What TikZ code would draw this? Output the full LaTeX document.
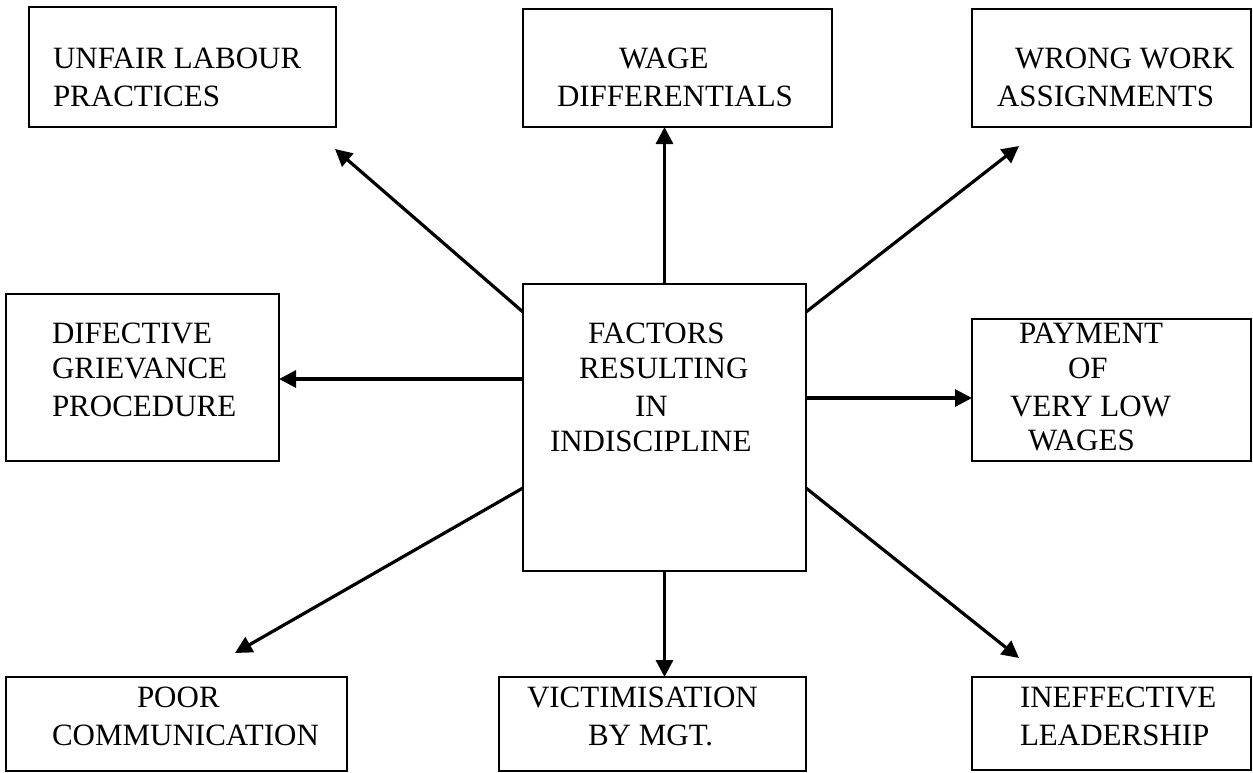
\documentclass[tikz,border=0pt]{standalone}
\usepackage{fontspec}
\setmainfont{Liberation Serif}
\usetikzlibrary{arrows.meta}
\begin{document}
\begin{tikzpicture}[x=1pt,y=-1pt,
  box/.style={draw=black,line width=1.6pt,rectangle,inner sep=0pt,outer sep=0pt},
  lbl/.style={inner sep=0pt,outer sep=0pt,anchor=base west,font=\fontsize{31}{37}\selectfont},
  conn/.style={line width=3.2pt,-{Triangle[length=17pt,width=17pt]}}]
\useasboundingbox (0,0) rectangle (1253,772);
% boxes
\node[box,minimum width=307pt,minimum height=120pt] (u) at (182.5,67) {};
\node[box,minimum width=309pt,minimum height=118pt] (w) at (677.5,68) {};
\node[box,minimum width=279pt,minimum height=118pt] (r) at (1111.5,68) {};
\node[box,minimum width=273pt,minimum height=167pt] (d) at (142.5,377.5) {};
\node[box,minimum width=283pt,minimum height=287pt] (c) at (664.5,427.5) {};
\node[box,minimum width=279pt,minimum height=142pt] (p) at (1111.5,390) {};
\node[box,minimum width=341pt,minimum height=94pt] (pc) at (176.5,724) {};
\node[box,minimum width=307pt,minimum height=94pt] (v) at (652.5,724) {};
\node[box,minimum width=279pt,minimum height=93pt] (l) at (1111.5,723.5) {};
% texts
\node[lbl] (u1) at (53,68) {UNFAIR LABOUR};
\node[lbl] (u2) at (53,106) {PRACTICES};
\node[lbl] (w1) at (619,68) {WAGE};
\node[lbl] (w2) at (557,106) {DIFFERENTIALS};
\node[lbl] (r1) at (1015,68) {WRONG WORK};
\node[lbl] (r2) at (997,106) {ASSIGNMENTS};
\node[lbl] (d1) at (52,343) {DIFECTIVE};
\node[lbl] (d2) at (52,378) {GRIEVANCE};
\node[lbl] (d3) at (52,416) {PROCEDURE};
\node[lbl] (c1) at (588,343) {FACTORS};
\node[lbl] (c2) at (579,378) {RESULTING};
\node[lbl] (c3) at (635,416) {IN};
\node[lbl] (c4) at (550,451) {INDISCIPLINE};
\node[lbl] (p1) at (1019,343) {PAYMENT};
\node[lbl] (p2) at (1068,378) {OF};
\node[lbl] (p3) at (1010,416) {VERY LOW};
\node[lbl] (p4) at (1028,450) {WAGES};
\node[lbl] (pc1) at (137,707) {POOR};
\node[lbl] (pc2) at (52,745) {COMMUNICATION};
\node[lbl] (v1) at (527,707) {VICTIMISATION};
\node[lbl] (v2) at (588,745) {BY MGT.};
\node[lbl] (l1) at (1020,707) {INEFFECTIVE};
\node[lbl] (l2) at (1020,745) {LEADERSHIP};
% connector end points
\coordinate (sUL) at (523,312);
\coordinate (sL)  at (523,379);
\coordinate (sLL) at (523,488);
\coordinate (sUR) at (806,312);
\coordinate (sR)  at (806,398);
\coordinate (sLR) at (806,488);
\coordinate (tUL) at (335,149);
\coordinate (tUR) at (1019,146);
\coordinate (tLL) at (235,653);
\coordinate (tLR) at (1019,658);
% connectors
\draw[conn] (sUL) -- (tUL);
\draw[conn] (c.north) -- (c.north |- w.south);
\draw[conn] (sUR) -- (tUR);
\draw[conn] (sL) -- (sL -| d.east);
\draw[conn] (sR) -- (sR -| p.west);
\draw[conn] (sLL) -- (tLL);
\draw[conn] (c.south) -- (c.south |- v.north);
\draw[conn] (sLR) -- (tLR);
\end{tikzpicture}
\end{document}
